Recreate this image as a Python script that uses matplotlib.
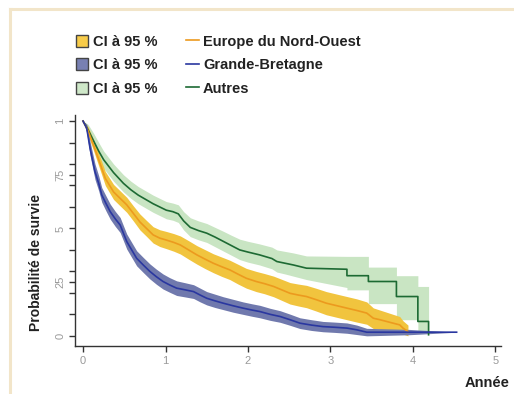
#!/usr/bin/env python
import matplotlib
matplotlib.use('Agg')
import matplotlib.pyplot as plt
from matplotlib.patches import Patch
from matplotlib.lines import Line2D

plt.rcParams['font.family'] = ['Liberation Sans', 'DejaVu Sans']

# Europe du Nord-Ouest (yellow / orange)
t_eu = [0, 0.06, 0.125, 0.185, 0.27, 0.37, 0.45, 0.53, 0.61, 0.69,
        0.77, 0.85, 0.93, 1.01, 1.10, 1.18, 1.28, 1.38, 1.48, 1.58,
        1.68, 1.78, 1.88, 1.98, 2.10, 2.20, 2.31, 2.41, 2.51, 2.61,
        2.71, 2.83, 2.95, 3.08, 3.20, 3.32, 3.44, 3.52, 3.60, 3.68,
        3.76, 3.84, 3.88, 3.94]
s_eu = [1.0, 0.955, 0.89, 0.826, 0.733, 0.67, 0.64, 0.61, 0.57, 0.53,
        0.50, 0.47, 0.455, 0.446, 0.435, 0.423, 0.40, 0.377, 0.357, 0.338,
        0.322, 0.307, 0.287, 0.268, 0.253, 0.243, 0.23, 0.214, 0.198, 0.19,
        0.183, 0.168, 0.152, 0.14, 0.129, 0.118, 0.106, 0.082, 0.075, 0.067,
        0.059, 0.051, 0.036, 0.02]
hi_eu = [1.0, 0.975, 0.915, 0.855, 0.765, 0.705, 0.675, 0.645, 0.605, 0.567,
         0.537, 0.508, 0.494, 0.486, 0.476, 0.465, 0.443, 0.42, 0.401, 0.382,
         0.367, 0.352, 0.333, 0.314, 0.3, 0.29, 0.278, 0.263, 0.248, 0.241,
         0.235, 0.221, 0.206, 0.194, 0.183, 0.172, 0.158, 0.13, 0.12, 0.11,
         0.1, 0.09, 0.07, 0.05]
lo_eu = [1.0, 0.935, 0.865, 0.797, 0.70, 0.635, 0.605, 0.575, 0.535, 0.493,
         0.463, 0.432, 0.416, 0.406, 0.394, 0.381, 0.357, 0.334, 0.313, 0.294,
         0.277, 0.262, 0.241, 0.222, 0.206, 0.196, 0.182, 0.165, 0.148, 0.139,
         0.131, 0.115, 0.098, 0.086, 0.075, 0.064, 0.054, 0.034, 0.03, 0.025,
         0.02, 0.015, 0.008, 0.0]

# Grande-Bretagne (blue)
t_gb = [0, 0.045, 0.085, 0.145, 0.19, 0.227, 0.28, 0.33, 0.39, 0.45,
        0.53, 0.59, 0.65, 0.73, 0.81, 0.89, 0.97, 1.05, 1.135, 1.24,
        1.34, 1.42, 1.50, 1.60, 1.70, 1.82, 1.94, 2.05, 2.145, 2.27,
        2.39, 2.51, 2.63, 2.77, 2.91, 3.05, 3.20, 3.32, 3.44, 3.95, 4.53]
s_gb = [1.0, 0.966, 0.873, 0.764, 0.71, 0.656, 0.615, 0.578, 0.545, 0.516,
        0.439, 0.40, 0.361, 0.33, 0.30, 0.275, 0.253, 0.237, 0.222, 0.214,
        0.206, 0.19, 0.175, 0.163, 0.152, 0.14, 0.129, 0.12, 0.113, 0.10,
        0.09, 0.075, 0.059, 0.05, 0.043, 0.04, 0.036, 0.028, 0.017, 0.017, 0.017]
hi_gb = [1.0, 0.985, 0.905, 0.80, 0.745, 0.69, 0.65, 0.613, 0.58, 0.551,
         0.474, 0.435, 0.396, 0.365, 0.335, 0.31, 0.288, 0.271, 0.256, 0.247,
         0.238, 0.222, 0.206, 0.194, 0.182, 0.17, 0.158, 0.149, 0.142, 0.128,
         0.117, 0.101, 0.084, 0.075, 0.067, 0.064, 0.06, 0.05, 0.035, 0.03, 0.017]
lo_gb = [1.0, 0.945, 0.84, 0.728, 0.675, 0.622, 0.58, 0.543, 0.51, 0.481,
         0.404, 0.365, 0.326, 0.295, 0.265, 0.24, 0.218, 0.203, 0.188, 0.181,
         0.174, 0.158, 0.144, 0.132, 0.122, 0.11, 0.1, 0.091, 0.084, 0.072,
         0.063, 0.049, 0.034, 0.025, 0.019, 0.016, 0.012, 0.006, 0.0, 0.005, 0.017]

# Autres (green); the tail has large steps
t_au = [0, 0.06, 0.125, 0.19, 0.25, 0.31, 0.37, 0.43, 0.49, 0.58,
        0.67, 0.76, 0.85, 0.93, 1.01, 1.09, 1.155, 1.22, 1.30, 1.40,
        1.50, 1.60, 1.70, 1.80, 1.90, 2.00, 2.14, 2.29, 2.35, 2.45,
        2.55, 2.71, 3.20, 3.20, 3.46, 3.46, 3.80, 3.80, 4.06, 4.06,
        4.19, 4.19]
s_au = [1.0, 0.96, 0.91, 0.86, 0.82, 0.79, 0.76, 0.735, 0.71, 0.68,
        0.655, 0.635, 0.615, 0.60, 0.585, 0.578, 0.568, 0.535, 0.505, 0.49,
        0.478, 0.46, 0.44, 0.42, 0.40, 0.39, 0.377, 0.36, 0.346, 0.338,
        0.33, 0.315, 0.31, 0.28, 0.28, 0.253, 0.253, 0.183, 0.183, 0.067,
        0.067, 0.005]
hi_au = [1.0, 0.985, 0.945, 0.90, 0.86, 0.83, 0.80, 0.775, 0.75, 0.72,
         0.695, 0.675, 0.655, 0.64, 0.625, 0.618, 0.61, 0.578, 0.55, 0.535,
         0.523, 0.505, 0.487, 0.468, 0.45, 0.44, 0.428, 0.413, 0.40, 0.393,
         0.386, 0.372, 0.37, 0.37, 0.37, 0.32, 0.32, 0.28, 0.28, 0.23,
         0.23, 0.23]
lo_au = [1.0, 0.935, 0.875, 0.82, 0.78, 0.75, 0.72, 0.695, 0.67, 0.64,
         0.615, 0.595, 0.575, 0.56, 0.545, 0.538, 0.528, 0.493, 0.462, 0.447,
         0.435, 0.415, 0.395, 0.375, 0.355, 0.343, 0.33, 0.312, 0.297, 0.288,
         0.278, 0.262, 0.225, 0.214, 0.214, 0.15, 0.15, 0.075, 0.075, 0.02,
         0.02, 0.02]

yticks = [0, 0.25, 0.5, 0.75, 1]
ytick_labels = ['0', '25', '5', '75', '1']
xticks = [0, 1, 2, 3, 4, 5]

fig = plt.figure(figsize=(5.14, 3.94), dpi=100)
ax = fig.add_axes([0.146, 0.122, 0.829, 0.586])

# bands first (green, yellow, blue), then the curves
ax.fill_between(t_au, lo_au, hi_au, color='#c9e5c3', lw=0, zorder=1)
ax.fill_between(t_eu, lo_eu, hi_eu, color='#f1c43e', lw=0, zorder=2)
ax.fill_between(t_gb, lo_gb, hi_gb, color='#7079ad', lw=0, zorder=3)

ax.plot(t_au, s_au, color='#1d6a33', lw=1.2, zorder=5)
ax.plot(t_eu, s_eu, color='#ec9a1e', lw=1.2, zorder=5)
ax.plot(t_gb, s_gb, color='#2a37a0', lw=1.2, zorder=6)

ax.set_xlim(-0.097, 5.07)
ax.set_ylim(-0.047, 1.028)
for side in ['top', 'right']:
    ax.spines[side].set_visible(False)
for side in ['left', 'bottom']:
    ax.spines[side].set_color('#333333')
    ax.spines[side].set_linewidth(1.0)

ax.set_xticks(xticks)
ax.set_xticklabels([str(v) for v in xticks])
ax.set_yticks(yticks)
ax.set_yticklabels(ytick_labels, rotation=90, va='center')
ax.set_yticks([0.1, 0.2, 0.3, 0.4, 0.6, 0.7, 0.8, 0.9], minor=True)
ax.tick_params(axis='both', which='major', direction='out', length=4, width=1,
               color='#333333', labelcolor='#9a9a9a', labelsize=8, pad=3)
ax.tick_params(axis='y', which='minor', direction='out', length=4, width=1,
               color='#333333')

fig.text(0.071, 0.335, 'Probabilité de survie', rotation=90, ha='center', va='center',
         fontsize=10, fontweight='bold', color='#222222')
fig.text(0.992, 0.028, 'Année', ha='right', va='center',
         fontsize=10.5, fontweight='bold', color='#222222')

handles = [Patch(facecolor='#f8cc4a', edgecolor='#444444', lw=1),
           Patch(facecolor='#7880b2', edgecolor='#444444', lw=1),
           Patch(facecolor='#cfe8c9', edgecolor='#444444', lw=1),
           Line2D([], [], color='#ec9a1e', lw=1.2),
           Line2D([], [], color='#2a37a0', lw=1.2),
           Line2D([], [], color='#1d6a33', lw=1.2)]
labels = ['CI à 95 %', 'CI à 95 %', 'CI à 95 %',
          'Europe du Nord-Ouest', 'Grande-Bretagne', 'Autres']
leg = fig.legend(handles, labels, ncol=2, loc='upper left', bbox_to_anchor=(0.122, 0.945),
                 frameon=False, fontsize=10.5, handlelength=0.85, handleheight=0.85,
                 handletextpad=0.3, columnspacing=2.0, labelspacing=0.65)
for txt in leg.get_texts():
    txt.set_fontweight('bold')
    txt.set_color('#222222')

# beige frame lines at top and left
fig.add_artist(Line2D([0.019, 1.0], [0.977, 0.977], color='#f2e5c9', lw=2.2))
fig.add_artist(Line2D([0.019, 0.019], [0.0, 0.977], color='#f2e5c9', lw=2.2))

plt.savefig('out.png', dpi=100)
